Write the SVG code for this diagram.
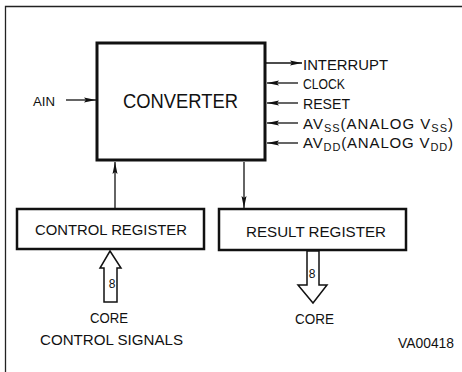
<svg xmlns="http://www.w3.org/2000/svg" width="462" height="372" viewBox="0 0 462 372">
<defs>
<marker id="ah" viewBox="0 0 12 6" refX="12" refY="3" markerWidth="12" markerHeight="6" markerUnits="userSpaceOnUse" orient="auto">
<path d="M0,0.5 L12,3 L0,5.5 L2,3 Z" fill="#111"/>
</marker>
</defs>
<style>
text{font-family:"Liberation Sans",Arial,sans-serif;fill:#111}
.lbl{font-size:15px}
.sub{font-size:11px}
.box{fill:#fff;stroke:#111;stroke-width:3}
.reg{fill:#fff;stroke:#111;stroke-width:2.5}
.ln{stroke:#111;stroke-width:1.3;fill:none}
.hollow{fill:#fff;stroke:#111;stroke-width:1.5;stroke-linejoin:miter}
</style>
<rect width="462" height="372" fill="#fff"/>
<path d="M5.5,372 V6.5 H462" fill="none" stroke="#222" stroke-width="1.3"/>

<g id="converter">
<rect class="box" x="97" y="43" width="168" height="117"/>
<text x="123" y="108" font-size="20" textLength="115" lengthAdjust="spacingAndGlyphs">CONVERTER</text>
</g>

<g id="control-register">
<rect class="reg" x="17" y="209" width="187" height="40"/>
<text class="lbl" x="35" y="235" textLength="152" lengthAdjust="spacingAndGlyphs">CONTROL REGISTER</text>
</g>

<g id="result-register">
<rect class="reg" x="219" y="209" width="187" height="41"/>
<text class="lbl" x="246" y="237" textLength="140" lengthAdjust="spacingAndGlyphs">RESULT REGISTER</text>
</g>

<g id="ain">
<text x="33" y="106" font-size="13" textLength="22" lengthAdjust="spacingAndGlyphs">AIN</text>
</g>
<g id="interrupt">
<text class="lbl" x="303" y="70" textLength="85" lengthAdjust="spacingAndGlyphs">INTERRUPT</text>
</g>
<g id="clock">
<text class="lbl" x="303" y="89" textLength="42" lengthAdjust="spacingAndGlyphs">CLOCK</text>
</g>
<g id="reset">
<text class="lbl" x="303" y="109" textLength="47" lengthAdjust="spacingAndGlyphs">RESET</text>
</g>
<g id="avss">
<text class="lbl" x="303" y="129" textLength="150" lengthAdjust="spacing">AV<tspan class="sub" dy="3">SS</tspan><tspan dy="-3">(ANALOG  V</tspan><tspan class="sub" dy="3">SS</tspan><tspan dy="-3">)</tspan></text>
</g>
<g id="avdd">
<text class="lbl" x="303" y="148" textLength="150" lengthAdjust="spacing">AV<tspan class="sub" dy="3">DD</tspan><tspan dy="-3">(ANALOG  V</tspan><tspan class="sub" dy="3">DD</tspan><tspan dy="-3">)</tspan></text>
</g>

<g id="core-control-signals">
<text class="lbl" x="90" y="323" textLength="38" lengthAdjust="spacingAndGlyphs">CORE</text>
<text class="lbl" x="40" y="345" textLength="143" lengthAdjust="spacingAndGlyphs">CONTROL SIGNALS</text>
</g>
<g id="core-out">
<text class="lbl" x="295" y="324" textLength="39" lengthAdjust="spacingAndGlyphs">CORE</text>
</g>
<g id="ref-code">
<text class="lbl" x="398" y="348" textLength="56" lengthAdjust="spacingAndGlyphs">VA00418</text>
</g>

<g id="connectors">
<line class="ln" x1="66" y1="100" x2="96" y2="100" marker-end="url(#ah)"/>
<line class="ln" x1="266" y1="63" x2="302" y2="63" marker-end="url(#ah)"/>
<line class="ln" x1="298" y1="83" x2="267" y2="83" marker-end="url(#ah)"/>
<line class="ln" x1="298" y1="103" x2="267" y2="103" marker-end="url(#ah)"/>
<line class="ln" x1="298" y1="123" x2="267" y2="123" marker-end="url(#ah)"/>
<line class="ln" x1="298" y1="143" x2="267" y2="143" marker-end="url(#ah)"/>
<line class="ln" x1="115" y1="208" x2="115" y2="162" marker-end="url(#ah)"/>
<line class="ln" x1="244" y1="162" x2="244" y2="208" marker-end="url(#ah)"/>
<path class="hollow" d="M110,251 L121,268 L117,268 L117,302 L104,302 L104,268 L100,268 Z"/>
<text x="112" y="288" font-size="12" text-anchor="middle">8</text>
<path class="hollow" d="M307,251 L319,251 L319,285 L327,285 L313,303 L298,285 L307,285 Z"/>
<text x="312" y="278" font-size="12" text-anchor="middle">8</text>
</g>
</svg>
